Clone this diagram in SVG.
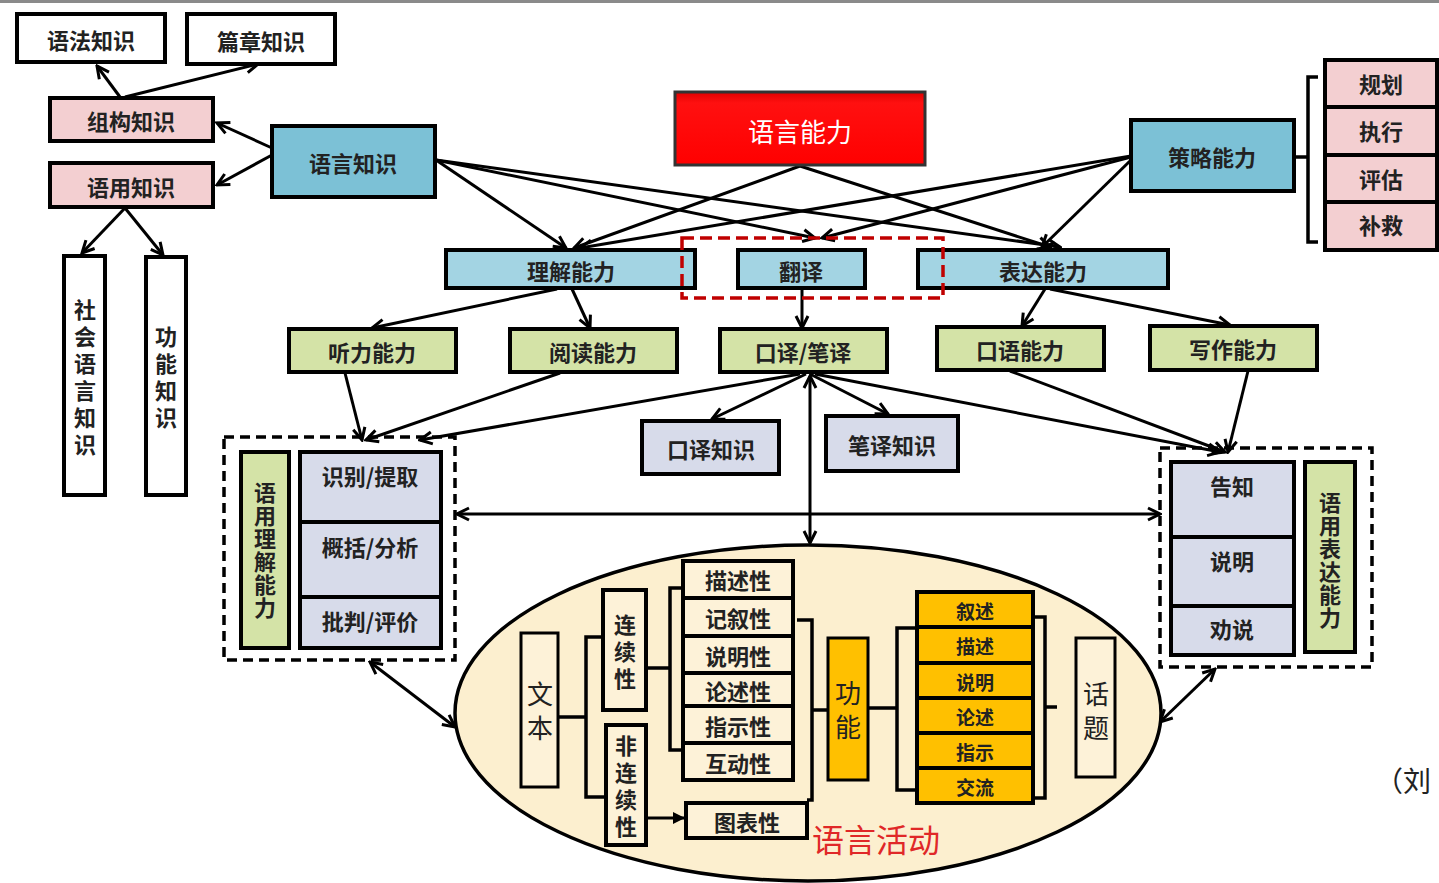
<svg xmlns="http://www.w3.org/2000/svg" width="1439" height="883" viewBox="0 0 1439 883">
<defs>
<style>
.bx{stroke:#000;stroke-width:4}
.thin{stroke:#000;stroke-width:3}
.t{font-family:"Noto Sans CJK SC","Noto Sans",sans-serif;font-weight:700;font-size:22px;fill:#222;text-anchor:middle;dominant-baseline:central}
.r{font-family:"Noto Sans CJK SC","Noto Sans",sans-serif;font-weight:400;font-size:26px;fill:#222;text-anchor:middle;dominant-baseline:central}
.v{writing-mode:vertical-rl;text-orientation:upright}
.s{font-size:19px}
.pink{fill:#f3cfd1}
.blue{fill:#7cc1d6}
.lblue{fill:#a3d4e3}
.green{fill:#d4e3a7}
.lav{fill:#d7dbea}
.org{fill:#ffc000}
.cream{fill:#fdf2d8}
.c{stroke:#000;stroke-width:3;fill:none;marker-end:url(#ah)}
.cc{stroke:#000;stroke-width:3;fill:none;marker-end:url(#ah);marker-start:url(#ah)}
.br{stroke:#000;stroke-width:3.5;fill:none}
</style>
<marker id="ah" viewBox="0 0 16 16" refX="14" refY="8" markerWidth="16" markerHeight="16" markerUnits="userSpaceOnUse" orient="auto-start-reverse">
<path d="M2,2 L14,8 L2,14" fill="none" stroke="#000" stroke-width="3"/>
</marker>
<marker id="tri" viewBox="0 0 12 12" refX="11" refY="6" markerWidth="12" markerHeight="12" markerUnits="userSpaceOnUse" orient="auto">
<path d="M0,0 L12,6 L0,12 Z" fill="#000"/>
</marker>
<linearGradient id="red" x1="0" y1="0" x2="0" y2="1">
<stop offset="0" stop-color="#e00000"/>
<stop offset="0.15" stop-color="#ff1010"/>
<stop offset="1" stop-color="#ff0000"/>
</linearGradient>
</defs>
<rect x="0" y="0" width="1439" height="883" fill="#fff"/>
<rect x="0" y="0" width="1439" height="3" fill="#8a8a8a"/>

<g id="connectors">
<line class="c" x1="120" y1="97" x2="97" y2="66"/>
<line class="c" x1="125" y1="97" x2="258" y2="64"/>
<line class="c" x1="272" y1="148" x2="217" y2="123"/>
<line class="c" x1="272" y1="155" x2="217" y2="185"/>
<line class="c" x1="125" y1="208" x2="82" y2="253"/>
<line class="c" x1="125" y1="208" x2="163" y2="255"/>
<line class="c" x1="436" y1="160" x2="566" y2="248"/>
<line class="c" x1="436" y1="160" x2="815" y2="238"/>
<line class="c" x1="436" y1="160" x2="1060" y2="247"/>
<line class="c" x1="800" y1="166" x2="574" y2="248"/>
<line class="c" x1="800" y1="166" x2="1050" y2="247"/>
<line class="c" x1="1131" y1="156" x2="580" y2="248"/>
<line class="c" x1="1131" y1="157" x2="822" y2="238"/>
<line class="c" x1="1131" y1="160" x2="1042" y2="247"/>
<line class="c" x1="557" y1="289" x2="372" y2="328"/>
<line class="c" x1="572" y1="289" x2="590" y2="328"/>
<line class="c" x1="802" y1="289" x2="802" y2="328"/>
<line class="c" x1="1045" y1="289" x2="1022" y2="326"/>
<line class="c" x1="1050" y1="289" x2="1230" y2="325"/>
<line class="c" x1="345" y1="373" x2="362" y2="440"/>
<line class="c" x1="560" y1="373" x2="366" y2="440"/>
<line class="c" x1="800" y1="374" x2="420" y2="440"/>
<line class="c" x1="806" y1="374" x2="712" y2="419"/>
<line class="c" x1="810" y1="374" x2="888" y2="414"/>
<line class="c" x1="815" y1="374" x2="1220" y2="452"/>
<line class="c" x1="1010" y1="371" x2="1225" y2="452"/>
<line class="c" x1="1248" y1="371" x2="1228" y2="452"/>
<line class="cc" x1="810" y1="376" x2="810" y2="543"/>
<line class="cc" x1="457" y1="514" x2="1160" y2="514"/>
<line class="cc" x1="370" y1="662" x2="455" y2="727"/>
<line class="cc" x1="1215" y1="669" x2="1160" y2="722"/>
</g>

<g id="n-yufa"><rect class="bx" x="17" y="14" width="148" height="48" fill="#fff"/><text class="t" x="91" y="39">语法知识</text></g>
<g id="n-pianzhang"><rect class="bx" x="187" y="14" width="148" height="50" fill="#fff"/><text class="t" x="261" y="40">篇章知识</text></g>
<g id="n-zugou"><rect class="bx pink" x="50" y="98" width="163" height="43"/><text class="t" x="131" y="120">组构知识</text></g>
<g id="n-yuyong"><rect class="bx pink" x="50" y="163" width="163" height="44"/><text class="t" x="131" y="186">语用知识</text></g>
<g id="n-yuyanzhishi"><rect class="bx blue" x="272" y="126" width="163" height="71"/><text class="t" x="353" y="162">语言知识</text></g>
<g id="n-shehui"><rect class="bx" x="64" y="256" width="41" height="239" fill="#fff"/>
<text class="t v" x="85" y="380" style="letter-spacing:5px">社会语言知识</text></g>
<g id="n-gongnengzhishi"><rect class="bx" x="146" y="257" width="40" height="238" fill="#fff"/>
<text class="t v" x="166" y="380" style="letter-spacing:5px">功能知识</text></g>
<g id="n-yuyannengli"><rect x="675" y="92" width="250" height="73" fill="url(#red)" stroke="#333" stroke-width="3"/><text class="r" x="800" y="130" style="fill:#fff">语言能力</text></g>
<g id="n-celue"><rect class="bx blue" x="1131" y="120" width="163" height="71"/><text class="t" x="1212" y="156">策略能力</text></g>
<g id="n-celue-items">
<path class="br" d="M1318,77 L1308,77 L1308,242 L1318,242 M1294,157 L1308,157"/>
<rect class="bx pink" x="1325" y="60" width="112" height="190"/>
<line class="bx" x1="1325" y1="107" x2="1437" y2="107"/><line class="bx" x1="1325" y1="155" x2="1437" y2="155"/><line class="bx" x1="1325" y1="202" x2="1437" y2="202"/>
<text class="t" x="1381" y="83">规划</text><text class="t" x="1381" y="130">执行</text><text class="t" x="1381" y="178">评估</text><text class="t" x="1381" y="224">补救</text>
</g>
<g id="n-lijie"><rect class="bx lblue" x="446" y="250" width="249" height="38"/><text class="t" x="571" y="270">理解能力</text></g>
<g id="n-fanyi"><rect class="bx lblue" x="738" y="250" width="127" height="38"/><text class="t" x="801" y="270">翻译</text></g>
<g id="n-biaoda"><rect class="bx lblue" x="918" y="250" width="250" height="38"/><text class="t" x="1043" y="270">表达能力</text></g>
<g id="n-fanyi-frame"><rect x="682" y="238" width="261" height="60" fill="none" stroke="#c00000" stroke-width="3.5" stroke-dasharray="12 6"/></g>
<g id="n-tingli"><rect class="bx green" x="289" y="329" width="167" height="43"/><text class="t" x="372" y="351">听力能力</text></g>
<g id="n-yuedu"><rect class="bx green" x="510" y="329" width="167" height="43"/><text class="t" x="593" y="351">阅读能力</text></g>
<g id="n-koubi"><rect class="bx green" x="720" y="329" width="167" height="43"/><text class="t" x="803" y="351">口译/笔译</text></g>
<g id="n-kouyu"><rect class="bx green" x="937" y="327" width="167" height="43"/><text class="t" x="1020" y="349">口语能力</text></g>
<g id="n-xiezuo"><rect class="bx green" x="1150" y="326" width="167" height="44"/><text class="t" x="1233" y="348">写作能力</text></g>
<g id="n-kouyizhishi"><rect class="bx lav" x="642" y="421" width="137" height="53"/><text class="t" x="711" y="448">口译知识</text></g>
<g id="n-biyizhishi"><rect class="bx lav" x="826" y="416" width="132" height="55"/><text class="t" x="892" y="444">笔译知识</text></g>

<g id="n-left-group">
<rect x="224" y="437" width="231" height="223" fill="none" stroke="#000" stroke-width="3.5" stroke-dasharray="10 6"/>
<rect class="bx green" x="241" y="452" width="48" height="196"/>
<text class="t v" x="265" y="551" style="letter-spacing:1px">语用理解能力</text>
<rect class="bx lav" x="300" y="452" width="141" height="196"/>
<line class="bx" x1="300" y1="522" x2="441" y2="522"/><line class="bx" x1="300" y1="597" x2="441" y2="597"/>
<text class="t" x="370" y="475">识别/提取</text><text class="t" x="370" y="546">概括/分析</text><text class="t" x="370" y="620">批判/评价</text>
</g>

<g id="n-right-group">
<rect x="1160" y="448" width="212" height="219" fill="none" stroke="#000" stroke-width="3.5" stroke-dasharray="10 6"/>
<rect class="bx lav" x="1171" y="462" width="123" height="193"/>
<line class="bx" x1="1171" y1="537" x2="1294" y2="537"/><line class="bx" x1="1171" y1="606" x2="1294" y2="606"/>
<text class="t" x="1232" y="485">告知</text><text class="t" x="1232" y="560">说明</text><text class="t" x="1232" y="628">劝说</text>
<rect class="bx green" x="1305" y="462" width="50" height="190"/>
<text class="t v" x="1330" y="561" style="letter-spacing:1px">语用表达能力</text>
</g>

<g id="n-activity">
<ellipse cx="808" cy="713" rx="353" ry="168" fill="#fcefcf" stroke="#000" stroke-width="3.5"/>
<rect class="thin cream" x="521" y="633" width="37" height="154"/>
<text class="r v" x="540" y="715" style="letter-spacing:8px">文本</text>
<path class="br" d="M558,717 L586,717 M603,637 L586,637 L586,797 L606,797"/>
<rect class="bx cream" x="603" y="590" width="43" height="120"/>
<text class="t v" x="625" y="654" style="letter-spacing:5px">连续性</text>
<rect class="bx cream" x="606" y="725" width="40" height="120"/>
<text class="t v" x="626" y="789" style="letter-spacing:5px">非连续性</text>
<path class="br" d="M646,668 L670,668 M683,588 L670,588 L670,750 L683,750"/>
<rect class="bx cream" x="683" y="561" width="110" height="219"/>
<line class="bx" x1="683" y1="598" x2="793" y2="598"/><line class="bx" x1="683" y1="636" x2="793" y2="636"/><line class="bx" x1="683" y1="673" x2="793" y2="673"/><line class="bx" x1="683" y1="706" x2="793" y2="706"/><line class="bx" x1="683" y1="743" x2="793" y2="743"/>
<text class="t" x="738" y="579">描述性</text><text class="t" x="738" y="617">记叙性</text><text class="t" x="738" y="655">说明性</text><text class="t" x="738" y="690">论述性</text><text class="t" x="738" y="725">指示性</text><text class="t" x="738" y="762">互动性</text>
<rect class="bx cream" x="686" y="803" width="121" height="35"/>
<text class="t" x="747" y="821">图表性</text>
<line x1="646" y1="818" x2="684" y2="818" stroke="#000" stroke-width="3" marker-end="url(#tri)"/>
<path class="br" d="M797,620 L812,620 L812,800 L807,800 M812,710 L828,710"/>
<rect class="thin org" x="828" y="638" width="40" height="142"/>
<text class="r v" x="848" y="714" style="letter-spacing:8px">功能</text>
<path class="br" d="M868,708 L897,708 M917,628 L897,628 L897,790 L917,790"/>
<rect class="bx org" x="917" y="592" width="116" height="211"/>
<line class="bx" x1="917" y1="627" x2="1033" y2="627"/><line class="bx" x1="917" y1="663" x2="1033" y2="663"/><line class="bx" x1="917" y1="698" x2="1033" y2="698"/><line class="bx" x1="917" y1="733" x2="1033" y2="733"/><line class="bx" x1="917" y1="768" x2="1033" y2="768"/>
<text class="t s" x="975" y="610">叙述</text><text class="t s" x="975" y="645">描述</text><text class="t s" x="975" y="681">说明</text><text class="t s" x="975" y="716">论述</text><text class="t s" x="975" y="751">指示</text><text class="t s" x="975" y="786">交流</text>
<path class="br" d="M1033,617 L1045,617 L1045,798 L1033,798 M1045,707 L1057,707"/>
<rect class="thin cream" x="1076" y="638" width="39" height="139"/>
<text class="r v" x="1096" y="715" style="letter-spacing:8px">话题</text>
<text class="r" x="876" y="838" style="fill:#e02828;font-size:32px">语言活动</text>
</g>
<text x="1375" y="780" style="font-family:'Noto Sans CJK SC',sans-serif;font-size:28px;fill:#222;dominant-baseline:central">（刘</text>
</svg>
